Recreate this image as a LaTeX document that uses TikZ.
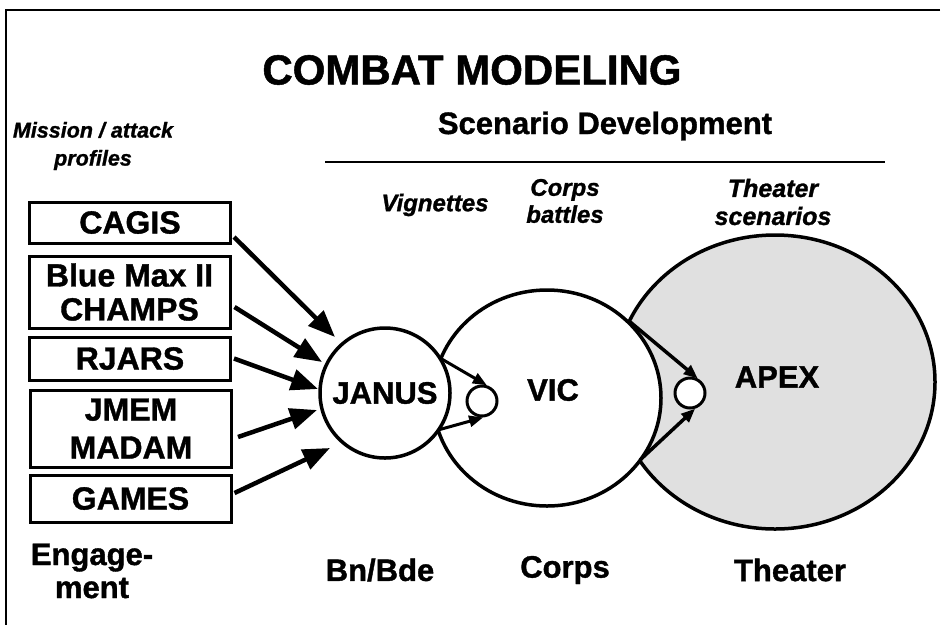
\documentclass[tikz,border=0pt]{standalone}
\usepackage{fontspec}
\setmainfont{Liberation Sans}[FakeBold=1.2]
\usetikzlibrary{arrows.meta,calc,shapes.geometric}
\begin{document}
\begin{tikzpicture}[x=1pt,y=-1pt,
  txt/.style={inner sep=0pt, align=center, font=\fontsize{31}{33}\selectfont\bfseries},
  ital/.style={inner sep=0pt, align=center, font=\fontsize{24}{27}\selectfont\bfseries\itshape},
  modelbox/.style={draw, line width=3pt, minimum width=201pt, inner sep=0pt, align=center, font=\fontsize{32}{34}\selectfont\bfseries},
  bigarrow/.style={line width=4.5pt, -{Triangle[length=27pt,width=21pt]}},
  smallarrow/.style={line width=3pt, -{Triangle[length=14pt,width=11pt]}},
  ring/.style={circle, draw, line width=3.5pt, fill=white, inner sep=0pt},
  oval/.style={ellipse, draw, line width=3.5pt, inner sep=0pt}]
\useasboundingbox (0,0) rectangle (944,625);
% frame
\coordinate (ftl) at (6,10);
\coordinate (ftr) at (940,10);
\coordinate (fbl) at (6,625);
\draw[line width=2.5pt] (ftr) -- (ftl) -- (fbl);
% titles
\node[inner sep=0pt, font=\fontsize{42}{44}\selectfont\bfseries] (title) at (472,70) {COMBAT MODELING};
\node[txt] (scen) at (605,126) {Scenario Development};
\coordinate (rl) at (325,162);
\coordinate (rr) at (885,162);
\draw[line width=2.5pt] (rl) -- (rr);
\node[ital, font=\fontsize{21.5}{28}\selectfont\bfseries\itshape] (mission) at (93,146) {Mission / attack\\profiles};
\node[ital] (vign) at (435,205) {Vignettes};
\node[ital] (corpsb) at (565,201) {Corps\\battles};
\node[ital, font=\fontsize{25}{28}\selectfont\bfseries\itshape] (theaters) at (773,202) {Theater\\scenarios};
% big shapes
\node[oval, fill=black!12, minimum width=320pt, minimum height=294pt] (apex) at (775,382) {};
\node[oval, fill=white, minimum width=228pt, minimum height=216pt] (vic) at (547,398) {};
\node[ring, minimum size=130pt] (janus) at (385,393) {};
\node[txt] (apext) at (777,377) {APEX};
\node[txt] (vict) at (553,390) {VIC};
\node[txt] (janust) at (385,393) {JANUS};
% boxes
\node[modelbox, minimum height=41pt] (cagis) at (130,222.5) {CAGIS};
\node[modelbox, minimum height=72pt] (bluemax) at (129.5,292) {Blue Max II\\CHAMPS};
\node[modelbox, minimum height=43pt] (rjars) at (130,358.5) {RJARS};
\node[modelbox, minimum height=77pt, font=\fontsize{32}{38}\selectfont\bfseries] (jmem) at (131,428.5) {JMEM\\MADAM};
\node[modelbox, minimum height=47pt] (games) at (130.5,498.5) {GAMES};
% big arrows
\draw[bigarrow] ([xshift=2pt,yshift=-14.5pt]cagis.east) -- ($(janus.center)+(-50,-56)$);
\draw[bigarrow] ([xshift=3pt,yshift=-15pt]bluemax.east) -- ($(janus.center)+(-63,-31)$);
\draw[bigarrow] ([xshift=2pt]rjars.east) -- ($(janus.center)+(-67,-4)$);
\draw[bigarrow] ([xshift=5pt,yshift=-8.5pt]jmem.east) -- ($(janus.center)+(-68,17)$);
\draw[bigarrow] ([xshift=2pt,yshift=5.5pt]games.east) -- ($(janus.center)+(-55,55)$);
% small circles and arrows
\coordinate (jvU) at (440,358);
\coordinate (jvL) at (438,430);
\coordinate (vaU) at (629,321);
\coordinate (vaL) at (640,460);
\node[ring, line width=3pt, minimum size=30pt] (s1) at (482,401) {};
\node[ring, line width=3pt, minimum size=30pt] (s2) at (690,393) {};
\draw[smallarrow] (jvU) -- (s1.73);
\draw[smallarrow] (jvL) -- (s1.-86);
\draw[smallarrow, line width=3.5pt] (vaU) -- (s2.62);
\draw[smallarrow, line width=3.5pt] (vaL) -- (s2.-72);
% bottom labels
\node[txt] (engage) at (92,571) {Engage-\\ment};
\node[txt] (bnbde) at (380,570) {Bn/Bde};
\node[txt] (corps) at (565,570) {Corps};
\node[txt] (theater) at (790,570) {Theater};
\end{tikzpicture}
\end{document}
